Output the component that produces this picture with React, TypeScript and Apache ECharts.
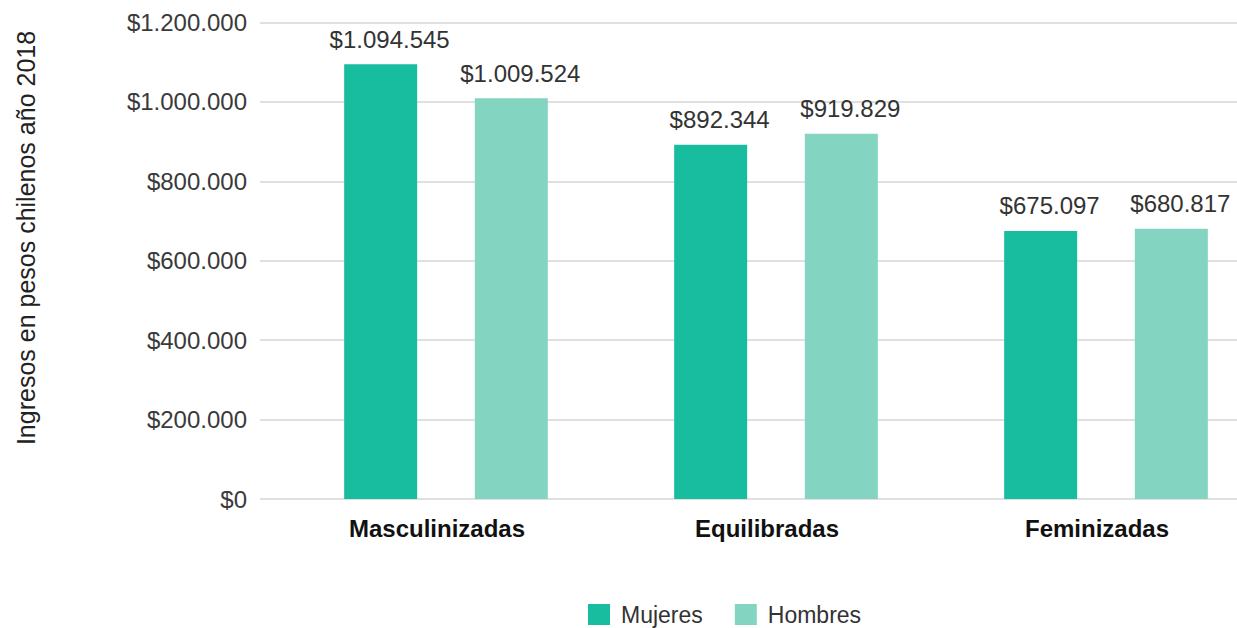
import React, { useEffect, useRef } from "react";
import * as echarts from "echarts";

const categories = ["Masculinizadas", "Equilibradas", "Feminizadas"];
const mujeres = [1094545, 892344, 675097];
const hombres = [1009524, 919829, 680817];
const seriesNames = ["Mujeres", "Hombres"];
const yTitle = "Ingresos en pesos chilenos año 2018";
const yMin = 0;
const yMax = 1200000;
const yStep = 200000;

const FONT = "'Liberation Sans', Arial, Helvetica, sans-serif";

function fmt(v: number): string {
  const s = Math.round(v).toString().replace(/\B(?=(\d{3})+(?!\d))/g, ".");
  return "$" + s;
}

export default function App() {
  const ref = useRef<HTMLDivElement>(null);
  useEffect(() => {
    if (!ref.current) return;
    const chart = echarts.init(ref.current, undefined, { renderer: "svg" });
    const labelStyle = {
      show: true,
      position: "top" as const,
      distance: 13,
      offset: [9, 0],
      fontFamily: FONT,
      fontSize: 24,
      color: "#333333",
      formatter: (p: any) => fmt(p.value),
    };
    chart.setOption({
      animation: false,
      backgroundColor: "#ffffff",
      grid: [
        { left: 281, top: 22.5, width: 990, height: 476.5, containLabel: false },
        { left: 260, top: 22.5, width: 1040, height: 476.5, containLabel: false },
      ],
      xAxis: [
        {
          type: "category",
          gridIndex: 0,
          data: categories,
          axisLine: { show: false },
          axisTick: { show: false },
          axisLabel: {
            fontFamily: FONT,
            fontSize: 24,
            fontWeight: "bold",
            color: "#111111",
            margin: 17,
            padding: [0, 18, 0, 0],
          },
        },
        { type: "value", gridIndex: 1, show: false },
      ],
      yAxis: [
        {
          type: "value",
          gridIndex: 0,
          min: yMin,
          max: yMax,
          interval: yStep,
          show: false,
          splitLine: { show: false },
        },
        {
          type: "value",
          gridIndex: 1,
          min: yMin,
          max: yMax,
          interval: yStep,
          axisLine: { show: false },
          axisTick: { show: false },
          axisLabel: {
            fontFamily: FONT,
            fontSize: 24,
            color: "#3a3a3a",
            margin: 13,
            formatter: (v: number) => fmt(v),
          },
          splitLine: { show: true, lineStyle: { color: "#d6d6d6", width: 1.5 } },
        },
      ],
      legend: {
        left: 583,
        top: 598,
        padding: 5,
        itemWidth: 22,
        itemHeight: 21,
        itemGap: 32,
        icon: "rect",
        data: seriesNames,
        textStyle: {
          fontFamily: FONT,
          fontSize: 23,
          color: "#333333",
          padding: [0, 0, 0, 6],
        },
      },
      graphic: [
        {
          type: "text",
          x: 26,
          y: 238,
          rotation: Math.PI / 2,
          style: {
            text: yTitle,
            fontFamily: FONT,
            fontSize: 25,
            fill: "#222222",
            align: "center",
            verticalAlign: "middle",
          },
        },
      ],
      series: [
        {
          name: seriesNames[0],
          type: "bar",
          xAxisIndex: 0,
          yAxisIndex: 0,
          data: mujeres,
          barWidth: 73,
          barGap: "79%",
          itemStyle: { color: "#17BD9E" },
          label: labelStyle,
        },
        {
          name: seriesNames[1],
          type: "bar",
          xAxisIndex: 0,
          yAxisIndex: 0,
          data: hombres,
          barWidth: 73,
          barGap: "79%",
          itemStyle: { color: "#84D4C2" },
          label: labelStyle,
        },
      ],
    });
    return () => chart.dispose();
  }, []);
  return (
    <div
      style={{
        position: "absolute",
        left: 0,
        top: 0,
        width: 1237,
        height: 628,
        overflow: "hidden",
        background: "#fff",
      }}
    >
      <div ref={ref} style={{ width: 1310, height: 628 }} />
    </div>
  );
}
